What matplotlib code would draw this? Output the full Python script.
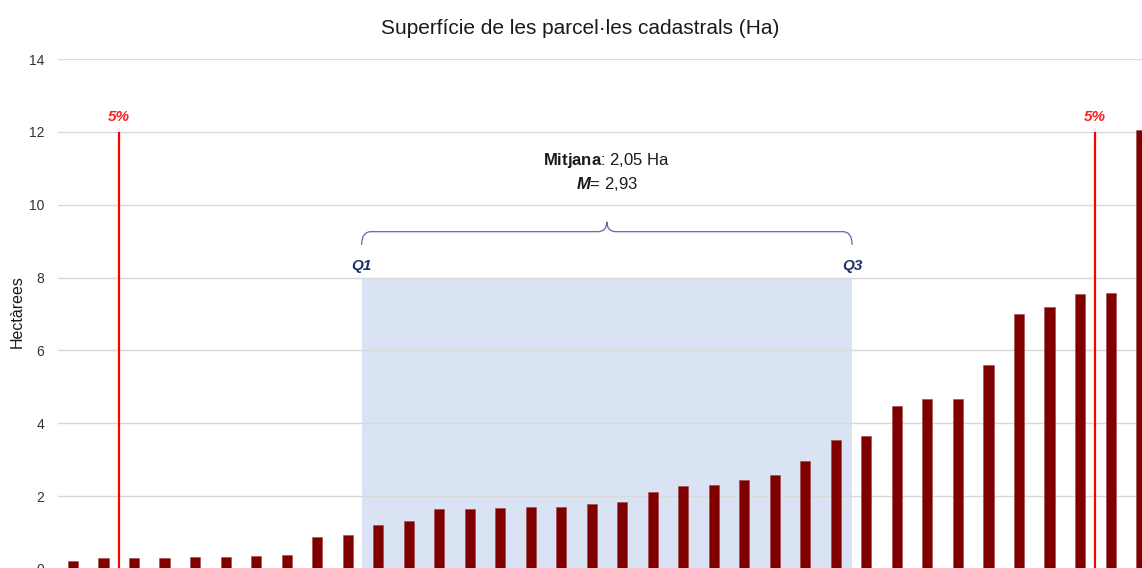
import matplotlib
matplotlib.use("Agg")
import matplotlib.pyplot as plt
from matplotlib.path import Path
from matplotlib.patches import PathPatch
import numpy as np

plt.rcParams['font.family'] = ['Liberation Sans', 'DejaVu Sans']
plt.rcParams['mathtext.fontset'] = 'custom'
plt.rcParams['mathtext.rm'] = 'Liberation Sans'
plt.rcParams['mathtext.bf'] = 'Liberation Sans:bold'
plt.rcParams['mathtext.it'] = 'Liberation Sans:italic'
plt.rcParams['mathtext.bfit'] = 'Liberation Sans:bold:italic'

# Data (hectares, sorted)
values = [0.22, 0.30, 0.30, 0.30, 0.33, 0.33, 0.36, 0.38, 0.88, 0.93,
          1.20, 1.31, 1.64, 1.64, 1.67, 1.70, 1.70, 1.78, 1.84, 2.11,
          2.27, 2.30, 2.44, 2.57, 2.96, 3.53, 3.64, 4.47, 4.66, 4.68,
          5.59, 6.99, 7.18, 7.56, 7.59, 12.05]
p5_low_pos = 1.5
p5_high_pos = 33.5
p5_line_top = 12
q1_pos = 9.46
q3_pos = 25.53
iqr_box_top = 8
title = "Superfície de les parcel·les cadastrals (Ha)"
ylabel = "Hectàrees"
median_text = "Mitjana"
median_value = "2,05 Ha"
mean_value = "2,93"
yticks = [0, 2, 4, 6, 8, 10, 12, 14]

W, H = 1142, 568
fig = plt.figure(figsize=(W / 100, H / 100), dpi=100)
ax_left = 58 / W
ax_bottom = -1 / H
ax_top = (H - 59) / H
ax = fig.add_axes([ax_left, ax_bottom, 1 - ax_left, ax_top - ax_bottom])

x = np.arange(len(values))
ax.set_xlim(-0.49, 35.03)
ax.set_ylim(0, 14)

# IQR shading
ax.axvspan(q1_pos, q3_pos, ymin=0, ymax=iqr_box_top / 14, color='#dae3f3', zorder=0, lw=0)

# Grid
ax.set_yticks(yticks)
ax.yaxis.grid(True, color='#d9d9d9', lw=1.0, zorder=0.5)
ax.set_axisbelow(True)
for s in ax.spines.values():
    s.set_visible(False)
ax.tick_params(axis='y', length=0, labelsize=10, labelcolor='#333333', pad=10)
ax.set_xticks([])

# Bars
ax.bar(x, values, width=0.33, color='#800000', edgecolor='#a04545', linewidth=0.4, zorder=3)

# 5% lines
for pos in (p5_low_pos, p5_high_pos):
    ax.plot([pos, pos], [0, p5_line_top], color='#ff0000', lw=1.6, zorder=4, solid_capstyle='butt')
    ax.text(pos, p5_line_top + 0.42, "5%", color='#ff2020', fontsize=11, fontweight='bold',
            fontstyle='italic', ha='center', va='center')

# Brace
xm = (q1_pos + q3_pos) / 2
yb, yh, yt = 8.9, 9.26, 9.53
dx = 0.3
verts = [(q1_pos, yb), (q1_pos, yh), (q1_pos + dx, yh),
         (xm - dx, yh), (xm, yh), (xm, yt),
         (xm, yt), (xm, yh), (xm + dx, yh),
         (q3_pos - dx, yh), (q3_pos, yh), (q3_pos, yb)]
codes = [Path.MOVETO, Path.CURVE3, Path.CURVE3,
         Path.LINETO, Path.CURVE3, Path.CURVE3,
         Path.MOVETO, Path.CURVE3, Path.CURVE3,
         Path.LINETO, Path.CURVE3, Path.CURVE3]
ax.add_patch(PathPatch(Path(verts, codes), fc='none', ec='#5b6ba6', lw=0.9, zorder=4))

# Q labels
for pos, lab in ((q1_pos, "Q1"), (q3_pos, "Q3")):
    ax.text(pos, 8.33, lab, color='#1f2f6b', fontsize=11, fontweight='bold',
            fontstyle='italic', ha='center', va='center')

# Median / mean text
ax.text(xm, 11.22, r"$\mathbf{" + median_text + r"}$" + ": " + median_value,
        fontsize=12, ha='center', va='center', color='#1a1a1a')
ax.text(xm, 10.58, r"$\mathbfit{M}$" + "= " + mean_value,
        fontsize=12, ha='center', va='center', color='#1a1a1a')

# Title & ylabel
fig.text(580 / W, 1 - 29 / H, title, fontsize=15, ha='center', va='center', color='#1a1a1a')
fig.text(17 / W, 1 - 312 / H, ylabel, fontsize=11.5, rotation=90, ha='center', va='center',
         color='#1a1a1a')

fig.savefig("out.png", dpi=100)
